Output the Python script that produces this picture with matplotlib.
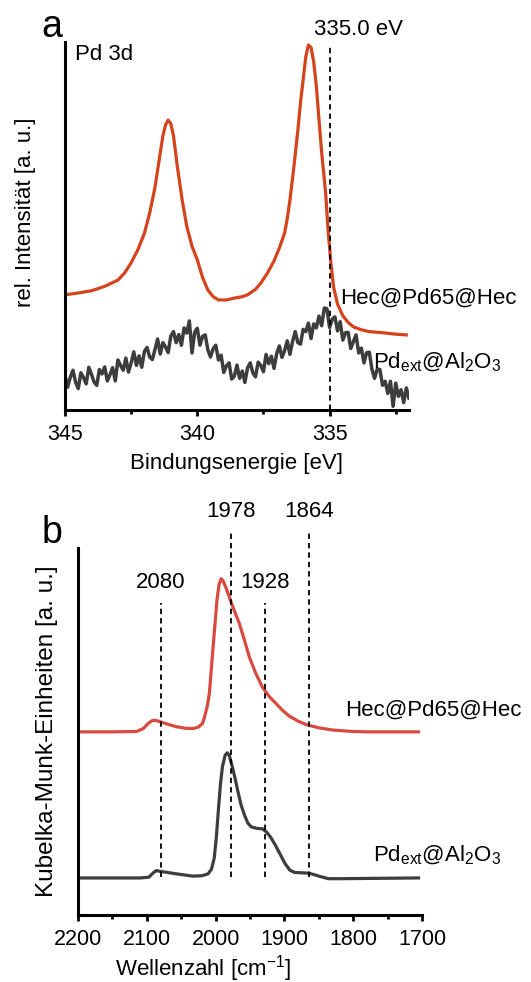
import numpy as np
import matplotlib
matplotlib.use("Agg")
import matplotlib.pyplot as plt

plt.rcParams["font.family"] = ["Liberation Sans", "DejaVu Sans"]
plt.rcParams["mathtext.fontset"] = "custom"
plt.rcParams["mathtext.rm"] = "Liberation Sans"
plt.rcParams["mathtext.it"] = "Liberation Sans"

# ---------------- panel a: XPS Pd 3d ----------------
xps_hec_energy = [
    345.0, 344.5, 344.0, 343.5, 343.0, 342.75, 342.5, 342.25, 342.0, 341.8,
    341.6, 341.45, 341.3, 341.2, 341.1, 341.0, 340.9, 340.75, 340.57, 340.4,
    340.2, 340.0, 339.8, 339.6, 339.4, 339.2, 338.9, 338.6, 338.3, 338.1,
    337.8, 337.6, 337.35, 337.1, 336.9, 336.7, 336.6, 336.5, 336.35, 336.2,
    336.1, 336.0, 335.9, 335.8, 335.7, 335.6, 335.5, 335.4, 335.3, 335.15,
    335.05, 334.95, 334.85, 334.7, 334.5, 334.3, 334.1, 333.8, 333.5, 333.0,
    332.5, 332.1,
]
xps_hec_intensity = [
    31.3, 31.8, 32.4, 33.6, 35.3, 37.2, 40.0, 43.5, 48.0, 53.5,
    60.5, 67.5, 74.5, 77.5, 78.8, 77.8, 74.5, 66.0, 57.0, 50.0,
    44.5, 40.8, 36.0, 32.6, 30.8, 29.9, 29.9, 30.4, 30.8, 31.3,
    32.8, 34.5, 37.2, 40.5, 44.0, 48.1, 52.0, 57.0, 66.0, 76.0,
    83.5, 89.7, 96.0, 99.2, 98.5, 94.5, 88.0, 78.8, 70.0, 59.0,
    48.1, 40.0, 33.4, 28.8, 25.6, 23.8, 22.6, 21.8, 21.3, 21.0,
    20.6, 20.4,
]

# Pd_ext@Al2O3, read every 0.1 eV from 345.0 down to 332.0 (noisy trace)
xps_al_intensity = [
    9.4, 6.2, 8.9, 10.8, 7.6, 5.8, 10.1, 8.8, 7.1, 11.6,
    9.7, 7.6, 6.7, 11.0, 9.8, 11.7, 7.9, 9.6, 11.5, 7.9,
    13.6, 12.1, 10.8, 14.1, 10.3, 12.8, 15.8, 12.1, 14.7, 11.6,
    15.9, 17.0, 14.4, 13.7, 16.4, 19.3, 15.2, 18.3, 17.1, 15.6,
    20.1, 21.3, 18.3, 20.5, 17.6, 22.3, 20.9, 24.2, 15.5, 21.1,
    22.2, 17.6, 20.0, 20.4, 16.3, 14.4, 16.7, 17.6, 13.6, 14.9,
    10.2, 12.0, 12.8, 8.4, 9.2, 12.2, 8.6, 10.6, 7.5, 11.5,
    12.8, 10.1, 9.0, 13.0, 12.1, 10.4, 15.1, 12.6, 14.6, 11.3,
    15.3, 17.4, 14.3, 16.1, 18.8, 15.1, 18.6, 21.3, 18.3, 17.9,
    21.9, 21.3, 23.6, 19.4, 23.4, 22.3, 25.5, 22.9, 27.7, 27.5,
    22.4, 24.7, 25.3, 21.5, 24.0, 19.0, 21.0, 21.1, 16.7, 18.6,
    20.4, 15.5, 16.8, 12.8, 15.6, 15.7, 11.1, 8.6, 11.1, 11.0,
    6.7, 7.8, 4.5, 7.8, 1.0, 7.3, 3.7, 5.5, 2.0, 6.0,
    3.2,
]
xps_al_energy = np.linspace(345.0, 332.0, len(xps_al_intensity))

xps_marker = 335.0

# ---------------- panel b: DRIFTS CO ----------------
ir_hec_wn = [
    2200, 2150, 2115, 2105, 2098, 2092, 2086, 2080, 2070, 2057,
    2045, 2033, 2025, 2019, 2016, 2012, 2009, 2004, 2001, 1998,
    1995, 1992, 1989, 1985, 1980, 1973, 1965, 1958, 1951, 1942,
    1932, 1922, 1912, 1903, 1893, 1880, 1867, 1850, 1830, 1800,
    1781, 1705,
]
ir_hec_km = [
    49.9, 49.9, 50.0, 50.8, 52.2, 53.0, 53.0, 52.6, 52.0, 51.3,
    50.9, 50.8, 51.2, 52.2, 54.0, 57.0, 60.5, 72.2, 79.0, 85.8,
    90.0, 91.6, 91.0, 89.2, 86.6, 83.0, 79.2, 74.8, 70.3, 66.0,
    62.1, 59.5, 57.6, 55.8, 54.2, 52.8, 51.8, 51.0, 50.4, 50.0,
    49.9, 49.9,
]
ir_al_wn = [
    2200, 2110, 2097, 2090, 2086, 2081, 2070, 2060, 2045, 2033,
    2020, 2011, 2006, 2002, 1999, 1996, 1993, 1990, 1986, 1983,
    1980, 1976, 1972, 1968, 1963, 1958, 1953, 1948, 1940, 1932,
    1926, 1920, 1913, 1906, 1899, 1892, 1885, 1875, 1864, 1850,
    1836, 1820, 1705,
]
ir_al_km = [
    10.1, 10.1, 10.3, 11.6, 12.1, 11.9, 11.6, 11.3, 10.9, 10.6,
    10.7, 11.2, 12.5, 15.5, 21.0, 28.5, 35.5, 40.5, 43.6, 44.2,
    43.4, 40.6, 37.5, 34.0, 30.0, 27.2, 25.0, 24.0, 23.6, 23.5,
    22.6, 21.2, 19.0, 16.5, 14.0, 12.2, 11.6, 11.5, 11.4, 10.6,
    9.9, 9.9, 10.1,
]
ir_bands = [2080, 1978, 1928, 1864]
ir_band_tops = [85, 105, 85, 105]

ORANGE = "#D5431D"
RED = "#D84A40"
GREY = "#3D3D3D"
FS = 16
TICK_FS = 15.5


def style_axes(ax):
    for side in ("top", "right"):
        ax.spines[side].set_visible(False)
    for side in ("left", "bottom"):
        ax.spines[side].set_linewidth(2.2)
    ax.set_yticks([])
    ax.tick_params(axis="x", which="major", direction="out", length=4,
                   width=2, pad=6, labelsize=TICK_FS)
    ax.tick_params(axis="x", which="minor", direction="out", length=3, width=2)


fig = plt.figure(figsize=(5.31, 9.82), dpi=100)

# panel a
ax1 = fig.add_axes([0.1224, 0.5825, 0.6478, 0.3747])
ax1.plot(xps_hec_energy, xps_hec_intensity, color=ORANGE, lw=2.3)
ax1.plot(xps_al_energy, xps_al_intensity, color=GREY, lw=2.5)
ax1.plot([xps_marker, xps_marker], [0, 99], color="black", lw=1.3,
         ls=(0, (3, 2.2)))
ax1.set_xlim(345, 332)
ax1.set_ylim(0, 100)
ax1.set_xticks([345, 340, 335])
ax1.set_xticks([342.5, 337.5, 332.5], minor=True)
style_axes(ax1)
ax1.set_xlabel("Bindungsenergie [eV]", fontsize=FS)
ax1.xaxis.set_label_coords(0.5, -0.118)
ax1.xaxis.label.set_va("top")
ax1.set_ylabel("rel. Intensität [a. u.]", fontsize=FS)
ax1.yaxis.set_label_coords(-0.084, 0.538)
ax1.text(333.9, 103.3, "335.0 eV", fontsize=FS, ha="center", va="center",
         clip_on=False)
ax1.text(344.62, 96.5, "Pd 3d", fontsize=FS, ha="left", va="center")
ax1.text(334.6, 30.4, "Hec@Pd65@Hec", fontsize=FS, ha="left", va="center",
         clip_on=False)
ax1.text(333.37, 12.8, r"Pd$_\mathregular{ext}$@Al$_\mathregular{2}$O$_\mathregular{3}$",
         fontsize=FS, ha="left", va="center", clip_on=False)
fig.text(52 / 531, 1 - 27 / 982, "a", fontsize=27, ha="center", va="center")

# panel b
ax2 = fig.add_axes([0.1469, 0.0682, 0.6478, 0.3738])
ax2.plot(ir_hec_wn, ir_hec_km, color=RED, lw=2.3)
ax2.plot(ir_al_wn, ir_al_km, color=GREY, lw=2.3)
for wn, top in zip(ir_bands, ir_band_tops):
    ax2.plot([wn, wn], [10.4, top], color="black", lw=1.3, ls=(0, (3, 2.2)),
             clip_on=False)
    ax2.text(wn, top + 5 if top > 100 else top + 5.7, str(wn), fontsize=FS,
             ha="center", va="center", clip_on=False)
ax2.set_xlim(2200, 1700)
ax2.set_ylim(0, 100)
ax2.set_xticks([2200, 2100, 2000, 1900, 1800, 1700])
ax2.set_xticks([2150, 2050, 1950, 1850, 1750], minor=True)
style_axes(ax2)
ax2.set_xlabel(r"Wellenzahl [cm$^\mathregular{-1}$]", fontsize=FS)
ax2.xaxis.set_label_coords(0.363, -0.103)
ax2.xaxis.label.set_va("top")
ax2.set_ylabel("Kubelka-Munk-Einheiten [a. u.]", fontsize=17.5)
ax2.yaxis.set_label_coords(-0.057, 0.50)
ax2.text(1812, 55.9, "Hec@Pd65@Hec", fontsize=FS, ha="left", va="center",
         clip_on=False)
ax2.text(1771, 16.3, r"Pd$_\mathregular{ext}$@Al$_\mathregular{2}$O$_\mathregular{3}$",
         fontsize=FS, ha="left", va="center", clip_on=False)
fig.text(52 / 531, 1 - 533 / 982, "b", fontsize=27, ha="center", va="center")

fig.savefig("out.png", dpi=100)
